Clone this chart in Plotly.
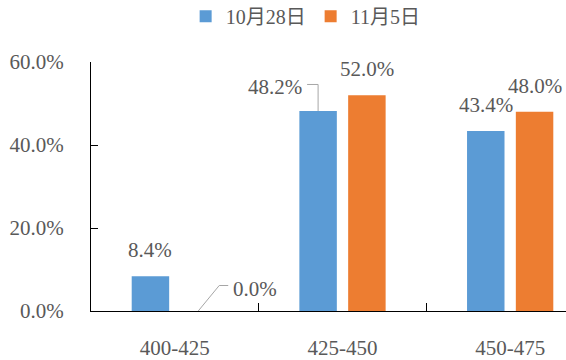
import plotly.graph_objects as go

categories = ["400-425", "425-450", "450-475"]
series_names = ["10月28日", "11月5日"]
values_oct28 = [8.4, 48.2, 43.4]
values_nov5 = [0.0, 52.0, 48.0]
colors = ["#5B9BD5", "#ED7D31"]
y_ticks = [0, 20, 40, 60]
y_tick_labels = [f"{t:.1f}%" for t in y_ticks]

FONT = "Liberation Serif"
TXT = "#595959"
FS = 21

fig = go.Figure()
for name, vals, col in zip(series_names, [values_oct28, values_nov5], colors):
    fig.add_trace(go.Bar(x=categories, y=vals, name=name, marker_color=col,
                         marker_line_width=0))

bargap = 0.418
slot = (1 - bargap) / 2
offsets = [-slot / 2, slot / 2]

annotations = []
shapes = []
for s, vals in enumerate([values_oct28, values_nov5]):
    for i, v in enumerate(vals):
        x = i + offsets[s]
        text = f"{v:.1f}%"
        if s == 0 and i == 1:
            annotations.append(dict(x=x, y=v, xref="x", yref="y", text=text, showarrow=False,
                                    xshift=-43, yshift=24, yanchor="middle",
                                    font=dict(family=FONT, size=FS, color=TXT)))
            shapes.append(dict(type="line", xref="x", yref="y", xsizemode="pixel", ysizemode="pixel",
                               xanchor=x, yanchor=v, x0=0, x1=0, y0=0, y1=26.5,
                               line=dict(color="#A6A6A6", width=1)))
            shapes.append(dict(type="line", xref="x", yref="y", xsizemode="pixel", ysizemode="pixel",
                               xanchor=x, yanchor=v, x0=-11, x1=0, y0=26.5, y1=26.5,
                               line=dict(color="#A6A6A6", width=1)))
        elif s == 1 and i == 0:
            annotations.append(dict(x=x, y=v, xref="x", yref="y", text=text, showarrow=False,
                                    xshift=56, yshift=22, yanchor="middle",
                                    font=dict(family=FONT, size=FS, color=TXT)))
            shapes.append(dict(type="line", xref="x", yref="y", xsizemode="pixel", ysizemode="pixel",
                               xanchor=x, yanchor=v, x0=-1, x1=20, y0=0, y1=25.5,
                               line=dict(color="#A6A6A6", width=1)))
            shapes.append(dict(type="line", xref="x", yref="y", xsizemode="pixel", ysizemode="pixel",
                               xanchor=x, yanchor=v, x0=20, x1=29, y0=25.5, y1=25.5,
                               line=dict(color="#A6A6A6", width=1)))
        else:
            annotations.append(dict(x=x, y=v, xref="x", yref="y", text=text, showarrow=False,
                                    yshift=26, yanchor="middle",
                                    font=dict(family=FONT, size=FS, color=TXT)))

fig.update_layout(
    width=566, height=360,
    margin=dict(l=91, r=0, t=62, b=49),
    paper_bgcolor="white", plot_bgcolor="white",
    barmode="group", bargap=bargap, bargroupgap=0.232,
    font=dict(family=FONT, size=FS, color=TXT),
    legend=dict(orientation="h", xref="container", yref="container",
                x=0.54, xanchor="center", y=0.955, yanchor="middle",
                font=dict(family="Liberation Serif, Noto Sans CJK SC", size=20, color=TXT),
                itemwidth=30, tracegroupgap=0),
    annotations=annotations,
    shapes=shapes,
    showlegend=True,
)
fig.update_xaxes(type="category", categoryorder="array", categoryarray=categories,
                 range=[-0.5, 2.333], showline=True, linecolor="black", linewidth=1.3,
                 ticks="inside", tickson="boundaries", ticklen=8, tickcolor="black", tickwidth=1.3,
                 showgrid=False, ticklabelstandoff=18,
                 tickfont=dict(family=FONT, size=FS, color=TXT))
fig.update_yaxes(range=[0, 60], tickmode="array", tickvals=y_ticks, ticktext=y_tick_labels,
                 showline=True, linecolor="black", linewidth=1.3,
                 ticks="inside", ticklen=7, tickcolor="black", tickwidth=1.3,
                 showgrid=False, zeroline=False, ticklabelstandoff=22,
                 tickfont=dict(family=FONT, size=FS, color=TXT))

fig.write_html("out.html")
